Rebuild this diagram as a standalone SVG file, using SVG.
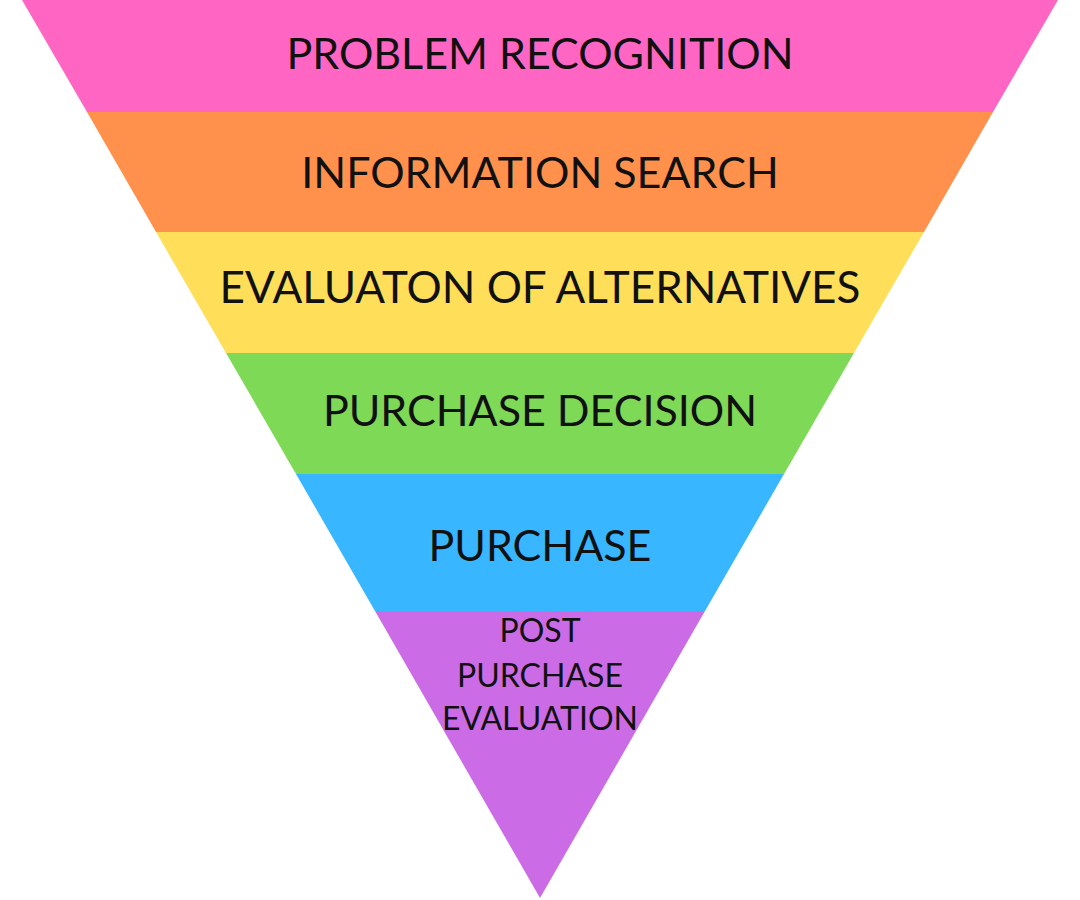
<svg xmlns="http://www.w3.org/2000/svg" width="1080" height="900" viewBox="0 0 1080 900">
<style>
.t{font-family:Lato,"Open Sans","Liberation Sans",sans-serif;fill:#111;text-anchor:middle}
.big{font-size:43px}
.small{font-size:32px}
</style>
<rect width="1080" height="900" fill="#fff"/>
<g id="band1"><polygon points="22,0 1058,0 993,112 87,112" fill="#FF66C4"/><text class="t big" x="540" y="69">PROBLEM RECOGNITION</text></g>
<g id="band2"><polygon points="87,112 993,112 924,232 156,232" fill="#FF914D"/><text class="t big" x="540" y="188">INFORMATION SEARCH</text></g>
<g id="band3"><polygon points="156,232 924,232 854,353 226,353" fill="#FFDE59"/><text class="t big" x="540" y="303" style="font-size:44px">EVALUATON OF ALTERNATIVES</text></g>
<g id="band4"><polygon points="226,353 854,353 784,474 296,474" fill="#7ED957"/><text class="t big" x="540" y="426">PURCHASE DECISION</text></g>
<g id="band5"><polygon points="296,474 784,474 705,611 375,611" fill="#38B6FF"/><text class="t big" x="540" y="561">PURCHASE</text></g>
<g id="band6"><polygon points="375,611 705,611 540,898" fill="#CB6CE6"/><text class="t small" x="540" y="642">POST</text><text class="t small" x="540" y="687">PURCHASE</text><text class="t small" x="540" y="730">EVALUATION</text></g>
<g id="connectors"/>
</svg>
